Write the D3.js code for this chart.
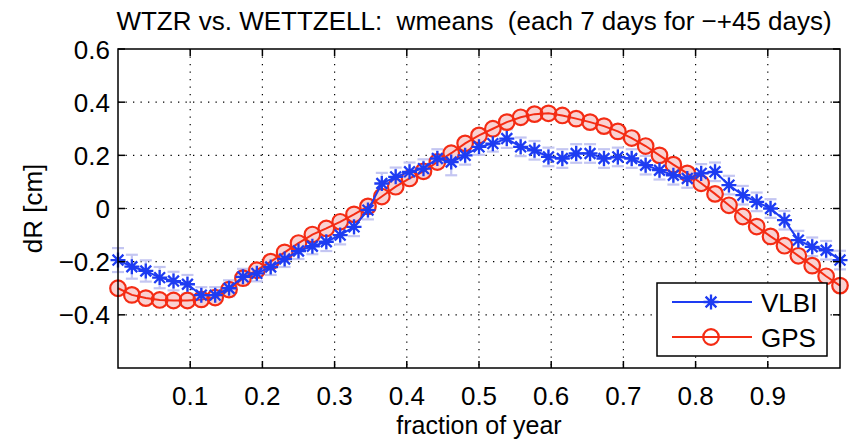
<!DOCTYPE html>
<html><head><meta charset="utf-8">
<script src="https://cdn.jsdelivr.net/npm/d3@7"></script>
<style>body{margin:0;background:#fff}svg{display:block}</style>
</head><body>
<svg id="c" width="864" height="441"></svg>
<script>
const fractionOfYear = [0,0.0192,0.0385,0.0577,0.0769,0.0962,0.1154,0.1346,0.1538,0.1731,0.1923,0.2115,0.2308,0.25,0.2692,0.2885,0.3077,0.3269,0.3462,0.3654,0.3846,0.4038,0.4231,0.4423,0.4615,0.4808,0.5,0.5192,0.5385,0.5577,0.5769,0.5962,0.6154,0.6346,0.6538,0.6731,0.6923,0.7115,0.7308,0.75,0.7692,0.7885,0.8077,0.8269,0.8462,0.8654,0.8846,0.9038,0.9231,0.9423,0.9615,0.9808,1.0];
const vlbi = [-0.194,-0.219,-0.235,-0.260,-0.273,-0.285,-0.326,-0.326,-0.300,-0.257,-0.244,-0.220,-0.190,-0.160,-0.142,-0.125,-0.100,-0.069,-0.006,0.094,0.119,0.138,0.150,0.188,0.175,0.200,0.232,0.244,0.263,0.232,0.219,0.194,0.188,0.207,0.207,0.188,0.194,0.188,0.163,0.144,0.125,0.113,0.132,0.138,0.088,0.050,0.025,0.000,-0.044,-0.119,-0.144,-0.157,-0.194];
const vlbiErr = [0.045,0.045,0.040,0.040,0.035,0.035,0.030,0.030,0.030,0.030,0.030,0.030,0.030,0.030,0.030,0.035,0.035,0.035,0.035,0.040,0.035,0.035,0.035,0.035,0.050,0.035,0.030,0.030,0.035,0.035,0.035,0.035,0.035,0.035,0.035,0.035,0.035,0.035,0.035,0.035,0.035,0.035,0.035,0.035,0.035,0.035,0.035,0.035,0.035,0.035,0.035,0.035,0.035];
const gps = [-0.300,-0.325,-0.337,-0.344,-0.346,-0.346,-0.342,-0.335,-0.305,-0.262,-0.232,-0.200,-0.165,-0.130,-0.098,-0.075,-0.050,-0.022,0.008,0.045,0.082,0.113,0.140,0.175,0.208,0.245,0.275,0.300,0.325,0.343,0.355,0.358,0.350,0.338,0.325,0.310,0.290,0.265,0.235,0.200,0.165,0.132,0.095,0.055,0.012,-0.030,-0.068,-0.105,-0.140,-0.178,-0.215,-0.255,-0.290];
const xTicks = [0.1,0.2,0.3,0.4,0.5,0.6,0.7,0.8,0.9];
const yTicks = [-0.4,-0.2,0,0.2,0.4,0.6];
const yTickLabels = ["\u22120.4","\u22120.2","0","0.2","0.4","0.6"];
const seriesNames = ["VLBI","GPS"];
const titleText = "WTZR vs. WETTZELL:  wmeans  (each 7 days for \u2212+45 days)";
const xLabel = "fraction of year";
const yLabel = "dR [cm]";

const BLUE = "#1e3cf2", RED = "#f42c14", LAV = "#c4c6f2", PINK = "#f9d2d2";
const FONT = "'Liberation Sans', Arial, Helvetica, sans-serif";
const svg = d3.select("#c");
const L = 118, R = 840, T = 49, B = 368;
const x = d3.scaleLinear().domain([0,1]).range([L,R]);
const y = d3.scaleLinear().domain([-0.6,0.6]).range([B,T]);

// grid
const g = svg.append("g");
g.selectAll(".gx").data(xTicks).join("line")
  .attr("x1", d=>x(d)).attr("x2", d=>x(d)).attr("y1", T).attr("y2", B)
  .attr("stroke","#000").attr("stroke-width",1.2).attr("stroke-dasharray","1.3,6.2");
g.selectAll(".gy").data(yTicks.filter(d=>d<0.6)).join("line")
  .attr("x1", L).attr("x2", R).attr("y1", d=>y(d)).attr("y2", d=>y(d))
  .attr("stroke","#000").attr("stroke-width",1.2).attr("stroke-dasharray","1.3,6.2");

// VLBI error bars
const eb = svg.append("g").attr("stroke", LAV).attr("stroke-width", 2.2);
fractionOfYear.forEach((fx,i)=>{
  const cx = x(fx), y1 = y(vlbi[i]-vlbiErr[i]), y2 = y(vlbi[i]+vlbiErr[i]);
  eb.append("line").attr("x1",cx).attr("x2",cx).attr("y1",y1).attr("y2",y2);
  eb.append("line").attr("x1",cx-6).attr("x2",cx+6).attr("y1",y1).attr("y2",y1);
  eb.append("line").attr("x1",cx-6).attr("x2",cx+6).attr("y1",y2).attr("y2",y2);
});

// GPS
const lineG = d3.line().x((d,i)=>x(fractionOfYear[i])).y(d=>y(d));
svg.append("g").selectAll("circle").data(gps).join("circle")
  .attr("cx",(d,i)=>x(fractionOfYear[i])).attr("cy",d=>y(d)).attr("r",7.8)
  .attr("fill",PINK).attr("stroke","none");
svg.append("path").datum(gps).attr("d",lineG).attr("fill","none").attr("stroke",RED).attr("stroke-width",2);
svg.append("g").selectAll("circle").data(gps).join("circle")
  .attr("cx",(d,i)=>x(fractionOfYear[i])).attr("cy",d=>y(d)).attr("r",7.8)
  .attr("fill","none").attr("stroke",RED).attr("stroke-width",2.2);

// VLBI
function starPath(cx, cy, r){
  const d = r*0.72;
  return `M${cx-r},${cy}L${cx+r},${cy}M${cx},${cy-r}L${cx},${cy+r}M${cx-d},${cy-d}L${cx+d},${cy+d}M${cx-d},${cy+d}L${cx+d},${cy-d}`;
}
svg.append("path").datum(vlbi).attr("d",lineG).attr("fill","none").attr("stroke",BLUE).attr("stroke-width",2);
svg.append("g").selectAll("path").data(vlbi).join("path")
  .attr("d",(d,i)=>starPath(x(fractionOfYear[i]), y(d), 7.5))
  .attr("stroke",BLUE).attr("stroke-width",2.3).attr("fill","none");

// axes box
svg.append("rect").attr("x",L).attr("y",T).attr("width",R-L).attr("height",B-T)
  .attr("fill","none").attr("stroke","#000").attr("stroke-width",1.5);
const tk = 7;
const ax = svg.append("g").attr("stroke","#000").attr("stroke-width",1.5);
xTicks.forEach(t=>{
  ax.append("line").attr("x1",x(t)).attr("x2",x(t)).attr("y1",B).attr("y2",B-tk);
  ax.append("line").attr("x1",x(t)).attr("x2",x(t)).attr("y1",T).attr("y2",T+tk);
});
yTicks.forEach(t=>{
  ax.append("line").attr("x1",L).attr("x2",L+tk).attr("y1",y(t)).attr("y2",y(t));
  ax.append("line").attr("x1",R).attr("x2",R-tk).attr("y1",y(t)).attr("y2",y(t));
});

// tick labels
svg.append("g").selectAll("text").data(xTicks).join("text")
  .attr("x",d=>x(d)).attr("y",405).attr("text-anchor","middle")
  .attr("font-family",FONT).attr("font-size",26).text(d=>d3.format(".1f")(d));
svg.append("g").selectAll("text").data(yTicks).join("text")
  .attr("x",110).attr("y",d=>y(d)+9.5).attr("text-anchor","end")
  .attr("font-family",FONT).attr("font-size",26).text((d,i)=>yTickLabels[i]);

// labels
svg.append("text").attr("x",(L+R)/2).attr("y",434).attr("text-anchor","middle")
  .attr("font-family",FONT).attr("font-size",25).text(xLabel);
svg.append("text").attr("transform",`translate(42,${(T+B)/2}) rotate(-90)`).attr("text-anchor","middle")
  .attr("font-family",FONT).attr("font-size",26).text(yLabel);
svg.append("text").attr("x",474).attr("y",30).attr("text-anchor","middle")
  .style("white-space","pre").attr("xml:space","preserve")
  .attr("font-family",FONT).attr("font-size",26).text(titleText);

// legend
const lg = svg.append("g");
lg.append("rect").attr("x",657).attr("y",283).attr("width",170).attr("height",73)
  .attr("fill","#fff").attr("stroke","#000").attr("stroke-width",1.5);
const ly = [302, 337];
lg.append("line").attr("x1",672).attr("x2",752).attr("y1",ly[0]).attr("y2",ly[0]).attr("stroke",BLUE).attr("stroke-width",2);
lg.append("path").attr("d",starPath(711,ly[0],7.5)).attr("stroke",BLUE).attr("stroke-width",2.3);
lg.append("line").attr("x1",672).attr("x2",752).attr("y1",ly[1]).attr("y2",ly[1]).attr("stroke",RED).attr("stroke-width",2);
lg.append("circle").attr("cx",711).attr("cy",ly[1]).attr("r",7.8).attr("fill","none").attr("stroke",RED).attr("stroke-width",2.2);
lg.selectAll(".lt").data(seriesNames).join("text")
  .attr("x",761).attr("y",(d,i)=>ly[i]+9.5).attr("font-family",FONT).attr("font-size",26).text(d=>d);
</script>
</body></html>
